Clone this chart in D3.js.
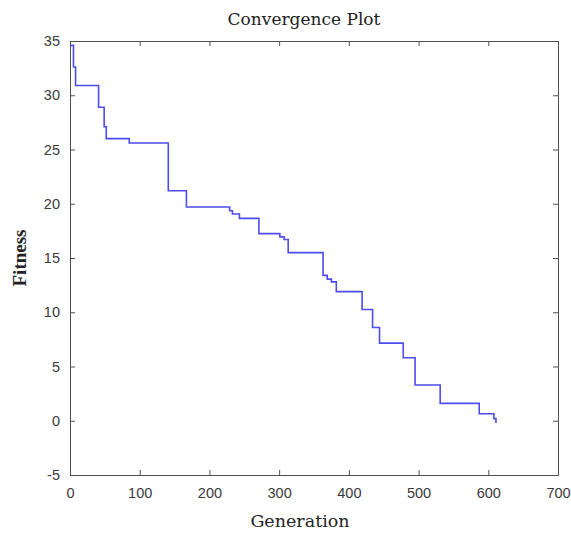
<!DOCTYPE html>
<html>
<head>
<meta charset="utf-8">
<script src="https://cdn.jsdelivr.net/npm/d3@7"></script>
<style>
  body { margin: 0; background: #fff; }
</style>
</head>
<body>
<svg id="chart" width="571" height="537"></svg>
<script>
// generation at which each fitness level begins
const generations = [1, 5, 8, 41, 49, 52, 85, 141, 167, 229, 233, 243, 271, 301, 307, 313,
    363, 369, 375, 382, 419, 434, 444, 478, 495, 531, 587, 608, 611];
const fitness = [34.6, 32.6, 30.9, 28.9, 27.1, 26.0, 25.6, 21.2, 19.7, 19.35, 19.05, 18.65, 17.25, 16.95, 16.7, 15.5,
    13.4, 13.05, 12.8, 11.9, 10.25, 8.6, 7.15, 5.8, 3.3, 1.6, 0.65, 0.2, -0.2];
const xTicks = [0, 100, 200, 300, 400, 500, 600, 700];
const yTicks = [-5, 0, 5, 10, 15, 20, 25, 30, 35];

const svg = d3.select("#chart");
const plotLeft = 70, plotRight = 558, plotTop = 41, plotBottom = 475;

const x = d3.scaleLinear().domain([0, 700]).range([plotLeft, plotRight]);
const y = d3.scaleLinear().domain([-5, 35]).range([plotBottom, plotTop]);

const data = generations.map((g, i) => ({g: g, f: fitness[i]}));

const axisColor = "#505050";
const tickFont = "Liberation Sans, Arial, sans-serif";
const plainFormat = d => String(d);   // keep ASCII hyphen like the original

// plot line
svg.append("path")
    .datum(data)
    .attr("fill", "none")
    .attr("stroke", "#4c4cf2")
    .attr("stroke-width", 1.6)
    .attr("d", d3.line().curve(d3.curveStepAfter).x(d => x(d.g)).y(d => y(d.f)));

// axes (ticks inward, MATLAB box style)
function styleAxis(g) {
    g.select(".domain").attr("stroke", axisColor);
    g.selectAll(".tick line").attr("stroke", axisColor);
    g.selectAll(".tick text")
        .attr("fill", "#3a3a3a")
        .style("font-family", tickFont)
        .style("font-size", "14.5px");
}

svg.append("g")
    .attr("transform", `translate(0,${plotBottom})`)
    .call(d3.axisBottom(x).tickValues(xTicks).tickFormat(plainFormat)
        .tickSizeInner(-5).tickSizeOuter(0).tickPadding(13))
    .call(styleAxis);

svg.append("g")
    .attr("transform", `translate(0,${plotTop})`)
    .call(d3.axisTop(x).tickValues(xTicks).tickSizeInner(-5).tickSizeOuter(0).tickFormat(""))
    .call(styleAxis);

svg.append("g")
    .attr("transform", `translate(${plotLeft},0)`)
    .call(d3.axisLeft(y).tickValues(yTicks).tickFormat(plainFormat)
        .tickSizeInner(-5).tickSizeOuter(0).tickPadding(10))
    .call(styleAxis);

svg.append("g")
    .attr("transform", `translate(${plotRight},0)`)
    .call(d3.axisRight(y).tickValues(yTicks).tickSizeInner(-5).tickSizeOuter(0).tickFormat(""))
    .call(styleAxis);

// titles
svg.append("text")
    .attr("x", 304)
    .attr("y", 25)
    .attr("text-anchor", "middle")
    .style("font-family", "DejaVu Serif, serif")
    .style("font-size", "17px")
    .attr("fill", "#222")
    .text("Convergence Plot");

svg.append("text")
    .attr("x", 300)
    .attr("y", 527)
    .attr("text-anchor", "middle")
    .style("font-family", "DejaVu Serif, serif")
    .style("font-size", "17.5px")
    .attr("fill", "#222")
    .text("Generation");

svg.append("text")
    .attr("transform", `translate(26,${(plotTop + plotBottom) / 2}) rotate(-90)`)
    .attr("text-anchor", "middle")
    .style("font-family", "Liberation Serif, serif")
    .style("font-size", "19px")
    .style("font-weight", "bold")
    .attr("fill", "#222")
    .text("Fitness");
</script>
</body>
</html>
